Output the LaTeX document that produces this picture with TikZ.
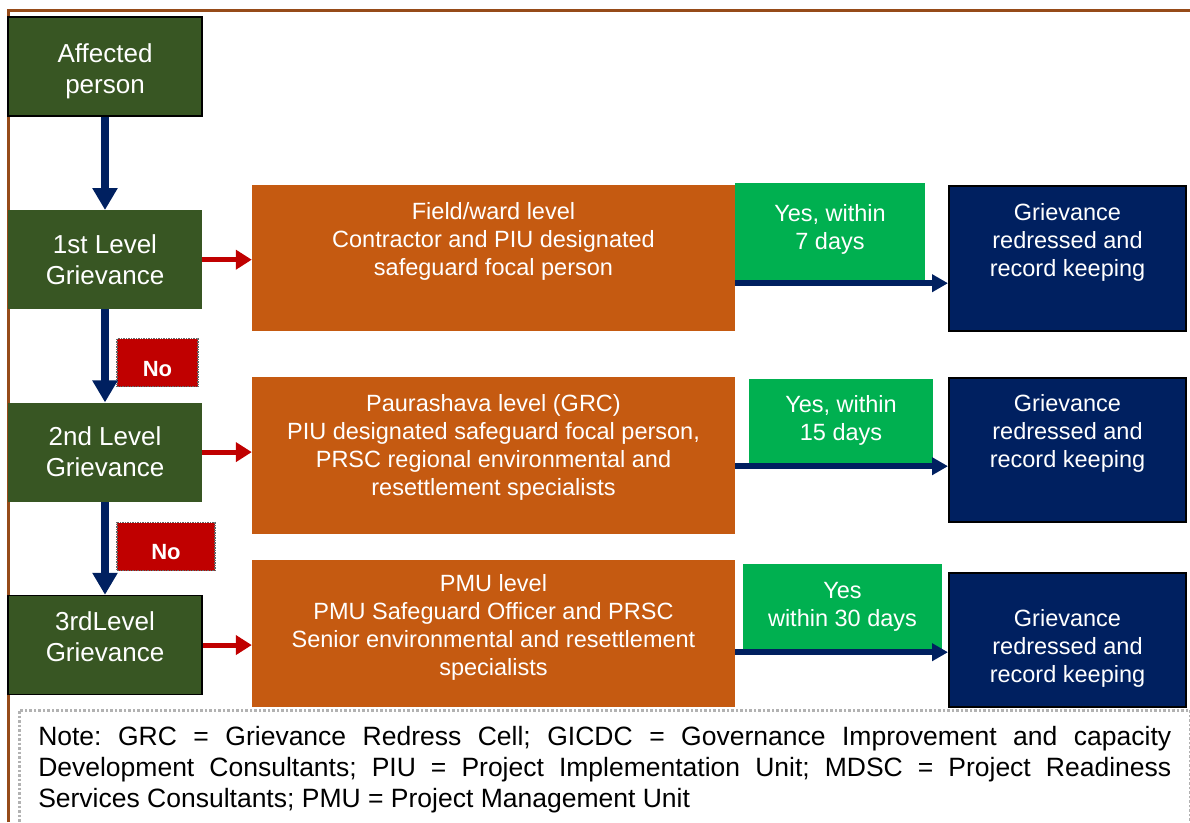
\documentclass[tikz,border=0pt]{standalone}
\usepackage{fontspec}
\setmainfont{Liberation Sans}
\usetikzlibrary{positioning,arrows.meta,calc}

\definecolor{lvlgreen}{RGB}{56,86,35}
\definecolor{unitorange}{RGB}{197,90,17}
\definecolor{yesgreen}{RGB}{0,176,80}
\definecolor{donenavy}{RGB}{0,32,96}
\definecolor{nored}{RGB}{192,0,0}
\definecolor{framebrown}{RGB}{150,75,25}

\begin{document}
\begin{tikzpicture}[x=1pt, y=-1pt, node distance = 93pt,
	lvlbox/.style = { rectangle, fill=lvlgreen, text=white, align=center,
	minimum width=194pt, minimum height=99pt, inner sep=0pt,
	font=\fontsize{26}{31}\selectfont },
	unitbox/.style = { rectangle, fill=unitorange, text=white, align=center,
	minimum width=483pt, inner sep=0pt, font=\fontsize{23.5}{28}\selectfont },
	yesbox/.style = { rectangle, fill=yesgreen, text=white, align=center,
	inner sep=0pt, font=\fontsize{23.5}{28}\selectfont },
	donebox/.style = { rectangle, fill=donenavy, draw=black, line width=2pt,
	text=white, align=center, minimum width=237pt, inner sep=0pt,
	font=\fontsize{23.5}{28}\selectfont },
	nobox/.style = { rectangle, fill=nored, draw=black!60, densely dotted,
	line width=1.5pt, text=white, minimum height=48pt,
	font=\fontsize{22}{26}\selectfont\bfseries },
	lift/.style = { text depth=#1 },
	drop/.style = { text height=#1, text depth=0pt },
	godown/.style = { draw=donenavy, line width=7.5pt,
	-{Triangle[width=24pt,length=22pt]} },
	goright/.style = { draw=donenavy, line width=6pt,
	-{Triangle[width=17pt,length=16pt]} },
	escalate/.style = { draw=nored, line width=5pt,
	-{Triangle[width=19pt,length=16pt]} } ]

  \useasboundingbox (0,0) rectangle (1190,822);
  \draw [framebrown, line width=3pt] (8,822) |- (1190,10);

  % grievance levels
  \node [name=affected, lvlbox, draw=black, line width=2pt, drop=53.6pt]
	at (105,66.5) { Affected\\person };
  \node [name=lvl1, lvlbox, below=of affected] { 1st Level\\Grievance };
  \node [name=lvl2, lvlbox, below=of lvl1] { 2nd Level\\Grievance };
  \node [name=lvl3, lvlbox, draw=black, line width=1.5pt, lift=16pt,
	below=of lvl2] { 3rdLevel\\Grievance };

  \node [name=no1, nobox, minimum width=81pt, drop=28.8pt] at (157.5,362.5)
	{ No };
  \node [name=no2, nobox, minimum width=98pt, drop=26.8pt] at (166,546.5)
	{ No };

  % who handles it
  \node [name=unit1, unitbox, minimum height=146pt, lift=38pt] at (493.5,258)
	{ Field/ward level\\Contractor and PIU designated\\safeguard focal person };
  \node [name=unit2, unitbox, minimum height=157pt, lift=22pt] at (493.5,455.5)
	{ Paurashava level (GRC)\\PIU designated safeguard focal person,\\
	PRSC regional environmental and\\resettlement specialists };
  \node [name=unit3, unitbox, minimum height=147pt, lift=17pt] at (493.5,633.5)
	{ PMU level\\PMU Safeguard Officer and PRSC\\
	Senior environmental and resettlement\\specialists };

  \node [name=yes1, yesbox, minimum width=190pt, minimum height=97pt,
	lift=9pt] at (830,231.5) { Yes, within\\7 days };
  \node [name=yes2, yesbox, minimum width=184pt, minimum height=84pt,
	lift=7pt] at (841,421) { Yes, within\\15 days };
  \node [name=yes3, yesbox, minimum width=199pt, minimum height=85pt]
	at (842.5,606.5) { Yes\\within 30 days };

  \node [name=done1, donebox, minimum height=145pt, lift=38pt] at (1067.5,258.5)
	{ Grievance\\redressed and\\record keeping };
  \node [name=done2, donebox, minimum height=144pt, lift=38pt] at (1067.5,450)
	{ Grievance\\redressed and\\record keeping };
  \node [name=done3, donebox, minimum height=134pt, drop=84pt] at (1067.5,640)
	{ Grievance\\redressed and\\record keeping };

  \node [name=note, anchor=north west, draw=black!30, dotted, line width=2.5pt,
	fill=white, text width=1133pt, inner xsep=19pt, inner ysep=16pt,
	align=justify, font=\fontsize{26.5}{31}\selectfont\frenchspacing]
	at (18,709)
	{ Note: GRC = Grievance Redress Cell; GICDC = Governance Improvement and
	capacity\linebreak Development Consultants; PIU = Project Implementation
	Unit; MDSC = Project Readiness\linebreak Services Consultants; PMU =
	Project Management Unit };

  % connectors
  \draw [godown] (affected.south) -- (lvl1.north);
  \draw [godown] (lvl1.south) -- (lvl2.north);
  \draw [godown] (lvl2.south) -- (lvl3.north);
  \foreach \i in {1,2,3} {
    \draw [escalate] (lvl\i.east) -- (lvl\i.east -| unit\i.west);
    \draw [goright] ($(unit\i.east |- yes\i.south)+(0,3)$)
	-- ($(done\i.west |- yes\i.south)+(0,3)$);
  }
\end{tikzpicture}
\end{document}
